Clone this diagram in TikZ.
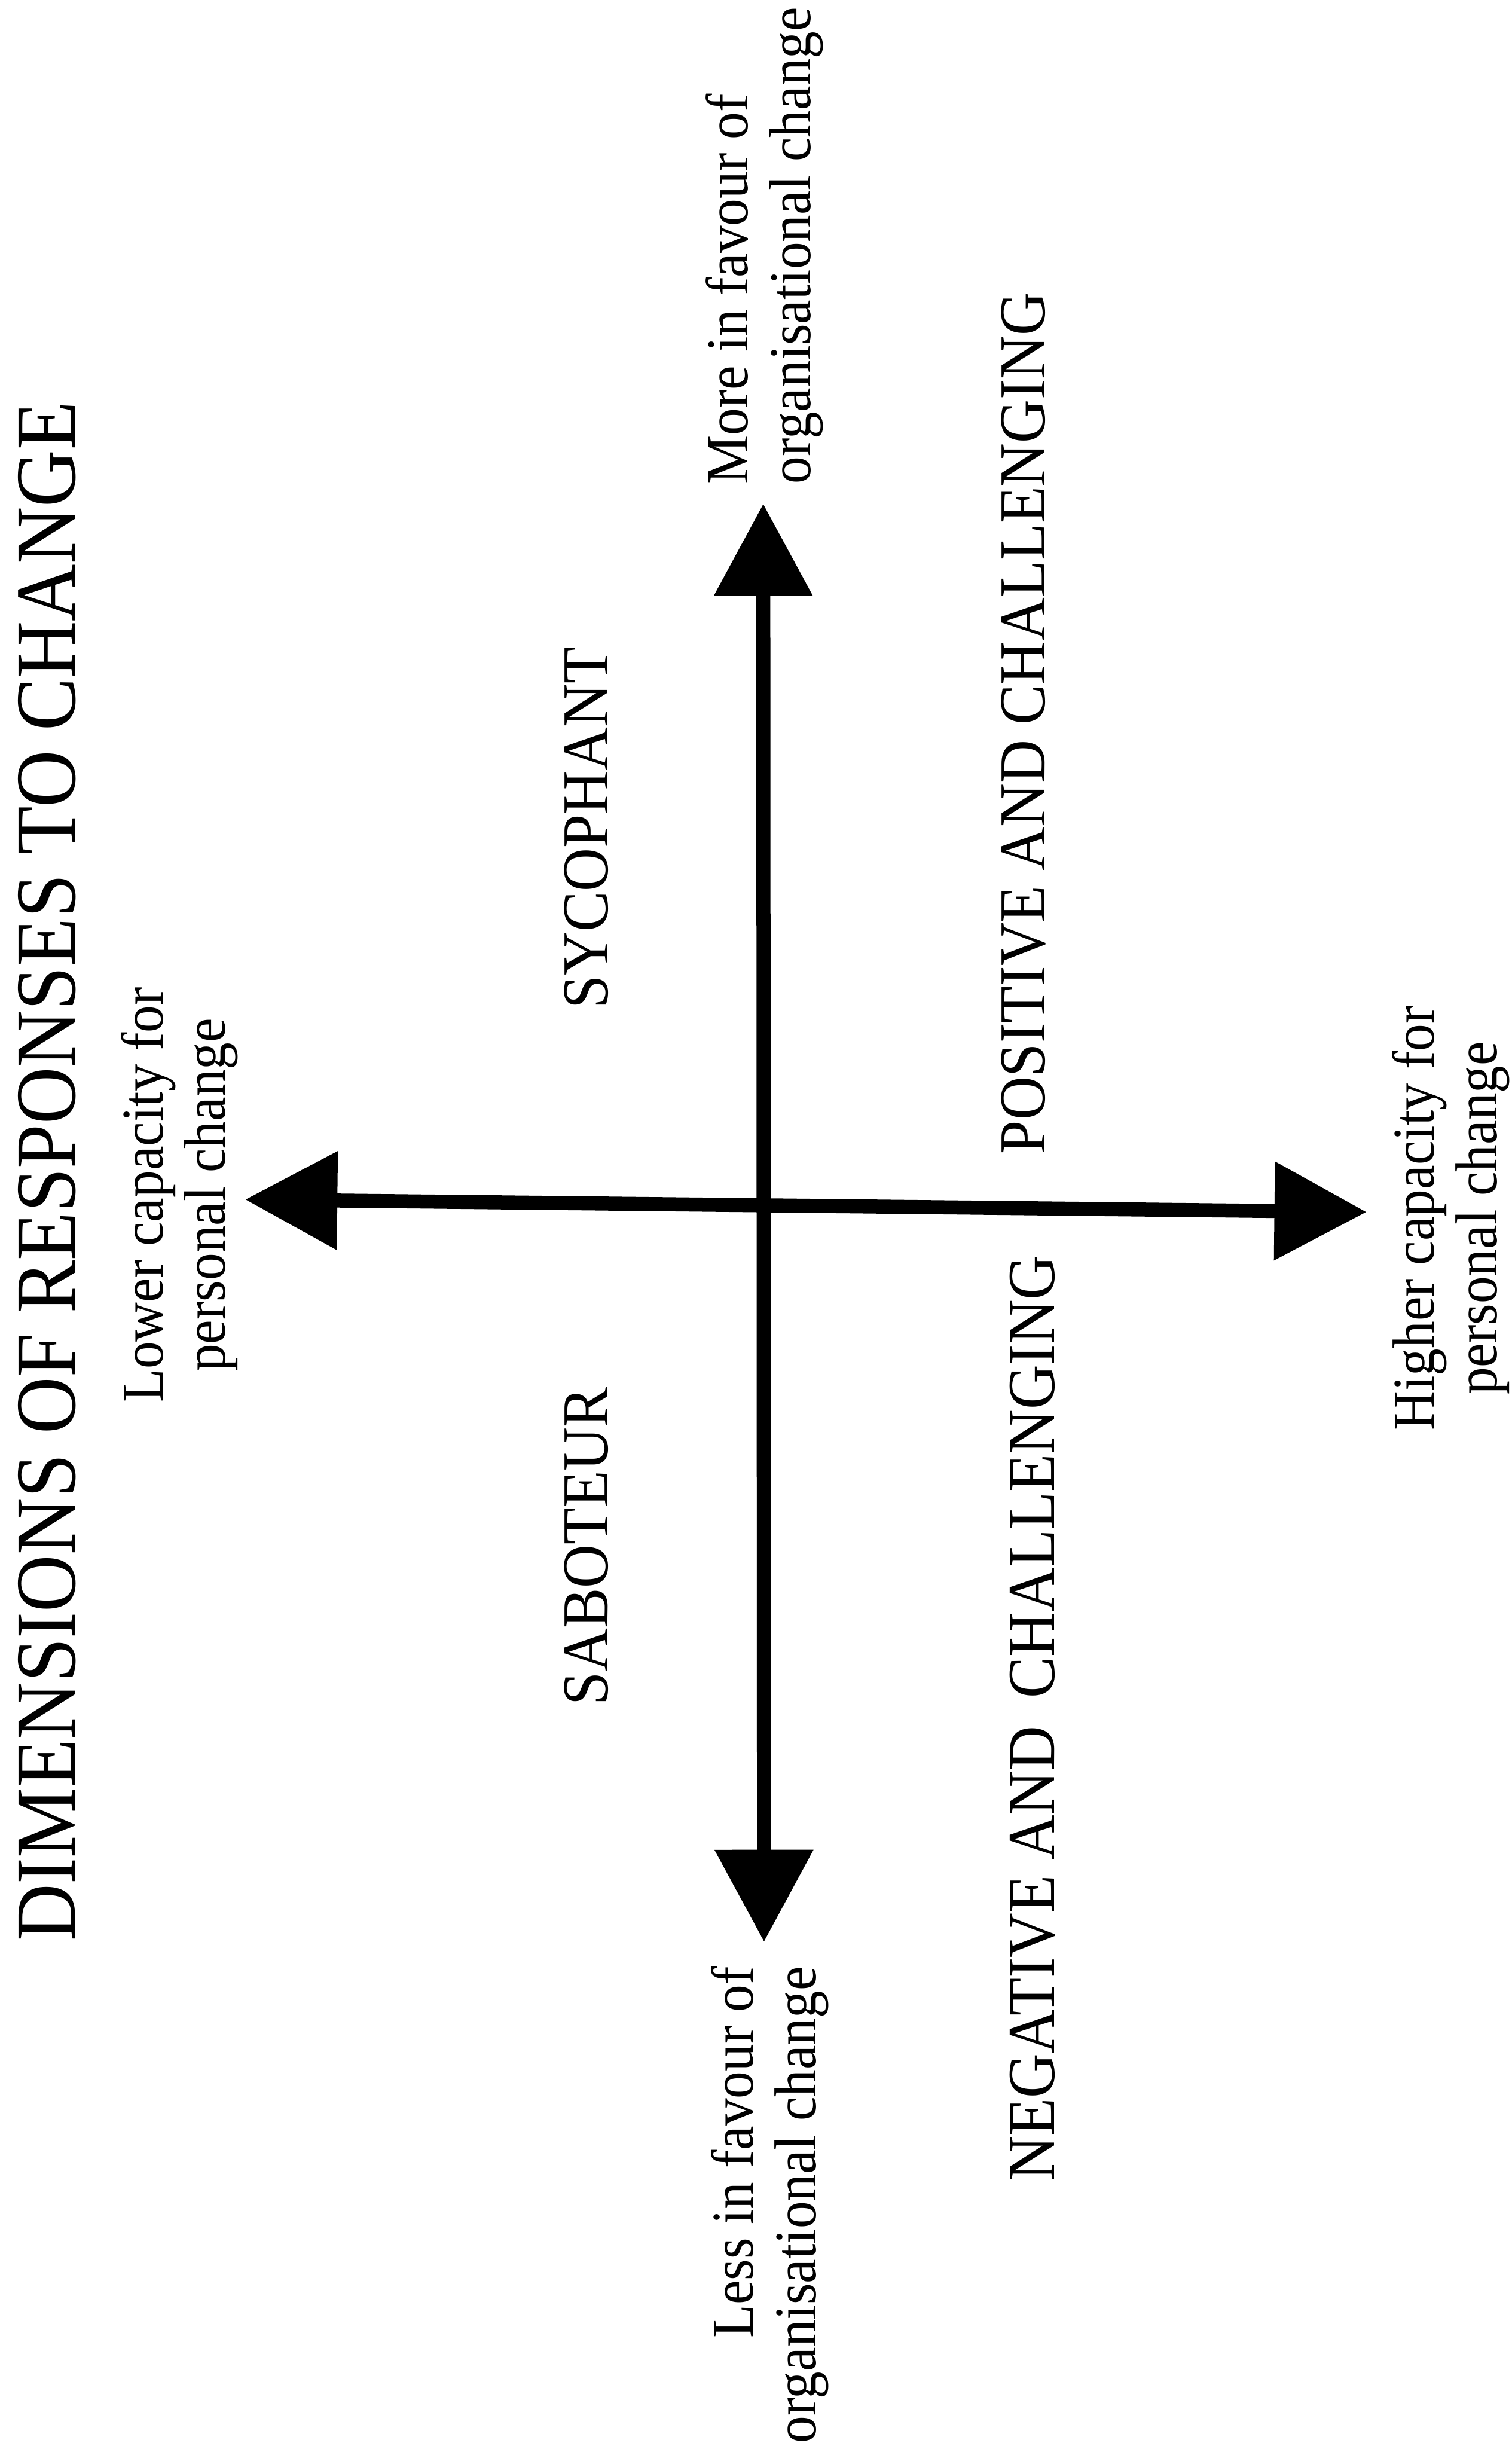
\documentclass[tikz,border=0pt]{standalone}
\usepackage{fontspec}
\setmainfont{Liberation Serif}[FakeStretch=0.92]
\usetikzlibrary{arrows.meta}
\begin{document}
\begin{tikzpicture}[x=1bp,y=-1bp,
  axis/.style={line width=9bp, >={Triangle[width=61bp,length=59bp]}, <->},
  titlelbl/.style={rotate=90, inner sep=0pt, anchor=base, font=\fontsize{55bp}{60bp}\selectfont},
  quad/.style={rotate=90, inner sep=0pt, anchor=base, font=\fontsize{42bp}{46bp}\selectfont},
  vlabel/.style={rotate=90, inner sep=0pt, font=\fontsize{38bp}{40bp}\selectfont},
  ]
\useasboundingbox[fill=white] (0,0) rectangle (968,1568);

% axes
\coordinate (ntip) at (488.7,322.5);
\coordinate (stip) at (489.2,1243.3);
\coordinate (wtip) at (157,768);
\coordinate (etip) at (875,776);
\draw[axis] (stip) -- (ntip);
\draw[axis] (wtip) -- (etip);

% title
\node[titlelbl] (title) at (48,750) {DIMENSIONS OF RESPONSES TO CHANGE};

% quadrant labels
\node[quad] (syc) at (389,530) {SYCOPHANT};
\node[quad] (sab) at (389,990) {SABOTEUR};
\node[quad] (pos) at (669,463) {POSITIVE AND CHALLENGING};
\node[quad, font=\fontsize{43bp}{46bp}\selectfont] (neg) at (675,1100) {NEGATIVE AND\hspace{18bp}CHALLENGING};

% axis end labels
\node[vlabel, align=left, anchor=west] (more) at (489.5,310) {More in favour of\\organisational change};
\node[vlabel, align=right, anchor=east] (less) at (493,1259) {Less in favour of\\organisational change};
\node[vlabel, align=center] (lower) at (115,765) {Lower capacity for\\personal change};
\node[vlabel, align=center] (higher) at (929,780) {Higher capacity for\\personal change};
\end{tikzpicture}
\end{document}
